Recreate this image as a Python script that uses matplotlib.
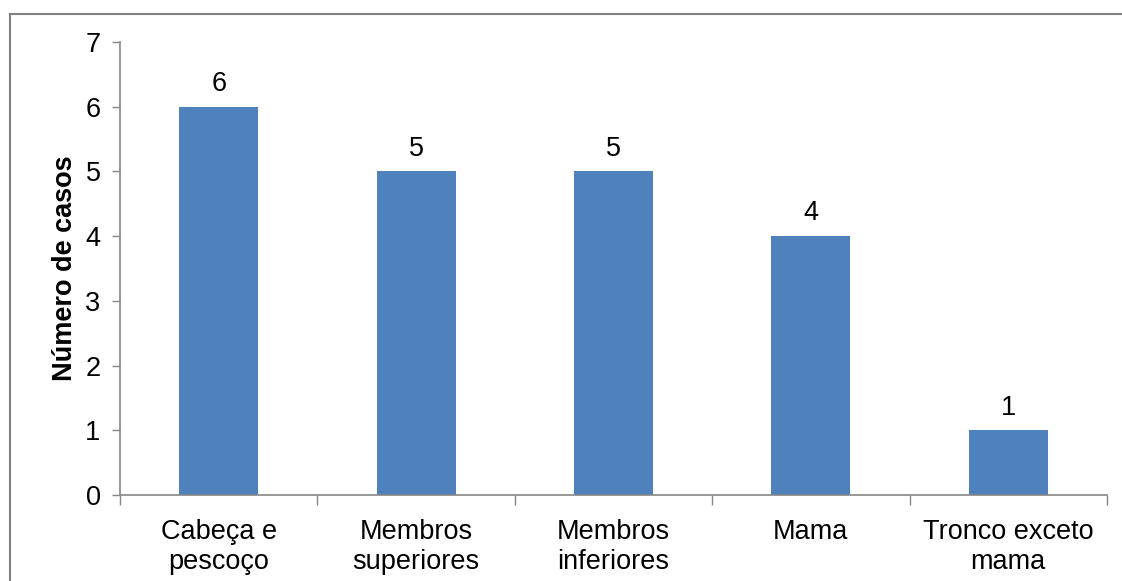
import matplotlib.pyplot as plt
from matplotlib.patches import Rectangle

categorias = ['Cabeça e\npescoço', 'Membros\nsuperiores', 'Membros\ninferiores',
              'Mama', 'Tronco exceto\nmama']
casos = [6, 5, 5, 4, 1]
yticks = [0, 1, 2, 3, 4, 5, 6, 7]

plt.rcParams['font.family'] = ['Liberation Sans', 'DejaVu Sans']
fs = 19.5

W, H = 1122, 581
fig = plt.figure(figsize=(W / 100, H / 100), dpi=100)
ax = fig.add_axes([120 / W, 1 - 495 / H, (1107 - 120) / W, (495 - 42) / H])

cinza = '#868686'
x = list(range(len(categorias)))
barras = ax.bar(x, casos, width=0.4, color='#4F81BD', zorder=2)

for xi, v in zip(x, casos):
    ax.text(xi, v + 0.15, str(v), ha='center', va='bottom', fontsize=fs)

ax.set_xlim(-0.5, len(categorias) - 0.5)
ax.set_ylim(0, 7)
ax.set_yticks(yticks)
ax.set_yticklabels([str(t) for t in yticks], fontsize=fs)
ax.tick_params(axis='y', length=6, color=cinza, width=1, pad=8)

# marcas do eixo x entre as categorias
ax.set_xticks([i - 0.5 for i in range(len(categorias) + 1)], minor=False)
ax.set_xticklabels([''] * (len(categorias) + 1))
ax.tick_params(axis='x', length=7, color=cinza, width=1)
ax.set_xticks(x, minor=True)
ax.set_xticklabels(categorias, minor=True, fontsize=fs, linespacing=1.2)
ax.tick_params(axis='x', which='minor', length=0, pad=17)

for lado in ['top', 'right']:
    ax.spines[lado].set_visible(False)
for lado in ['left', 'bottom']:
    ax.spines[lado].set_color(cinza)
    ax.spines[lado].set_linewidth(1.2)

ax.set_ylabel('Número de casos', fontsize=fs, fontweight='bold', labelpad=5)

# moldura do gráfico (só topo e esquerda visíveis)
fig.patches.append(Rectangle((10 / W, -0.1), 1.2, 1 - 14 / H + 0.1,
                             transform=fig.transFigure, fill=False,
                             edgecolor='#808080', linewidth=1.5))

fig.savefig('out.png', dpi=100)
